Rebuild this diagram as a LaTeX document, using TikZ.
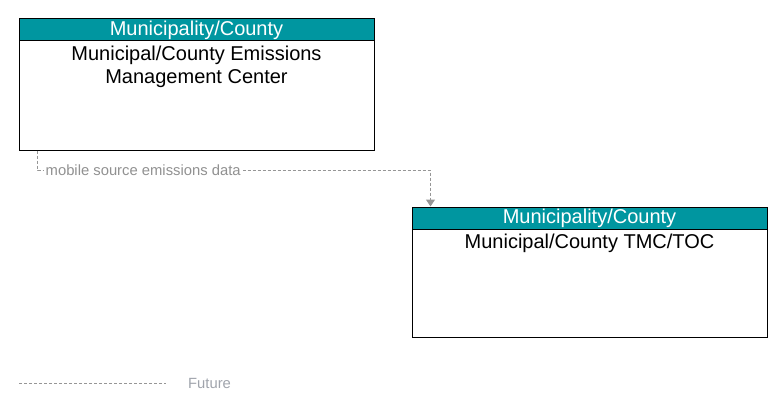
\documentclass[tikz,border=0pt]{standalone}
\usepackage{fontspec}
\setmainfont{Liberation Sans}
\usetikzlibrary{positioning,arrows.meta}
\definecolor{headteal}{RGB}{0,150,160}
\definecolor{flowgray}{RGB}{150,150,150}
\definecolor{labelgray}{RGB}{145,145,145}
\definecolor{legendgray}{RGB}{160,164,172}
\begin{document}
\begin{tikzpicture}[x=1pt,y=-1pt,
  element/.style={draw=black, line width=1pt, minimum width=355pt, inner sep=0pt},
  header/.style={draw=black, line width=1pt, fill=headteal, text=white, minimum width=355pt, minimum height=22pt, inner sep=0pt, font=\fontsize{20}{23}\selectfont},
  title/.style={align=center, inner sep=4pt, font=\fontsize{20}{23}\selectfont},
  future/.style={draw=flowgray, line width=1pt, dash pattern=on 3pt off 2pt},
  flow/.style={future, -{Triangle[width=9pt,length=7pt]}},
  flowlabel/.style={fill=white, text=labelgray, inner sep=2pt, font=\fontsize{14.8}{16}\selectfont}]
\useasboundingbox (0,0) rectangle (783,412);

% emissions management center
\node[element, minimum height=131pt] (emc) at (196.5,84.5) {};
\node[header, anchor=north] (emchead) at (emc.north) {Municipality/County};
\node[title, below=0pt of emchead] (emctext) {Municipal/County Emissions\\Management Center};

% traffic management center
\node[element, minimum height=130pt] (tmc) at (589.5,272) {};
\node[header, anchor=north] (tmchead) at (tmc.north) {Municipality/County};
\node[title, below=0pt of tmchead] (tmctext) {Municipal/County TMC/TOC};

% flow
\coordinate (src) at ([xshift=19pt]emc.south west);
\coordinate (bend) at ([yshift=-20pt]src);
\coordinate (dst) at ([xshift=19pt]tmc.north west);
\draw[flow] (src) -- (bend) -| (dst);
\node[flowlabel, right=6pt of bend] (flowtext) {mobile source emissions data};

% legend
\coordinate (futstart) at (19,383);
\coordinate (futend) at (166,383);
\draw[future] (futstart) -- (futend);
\node[text=legendgray, inner sep=0pt, right=22pt of futend, font=\fontsize{14.8}{16}\selectfont] (futtext) {Future};
\end{tikzpicture}
\end{document}
